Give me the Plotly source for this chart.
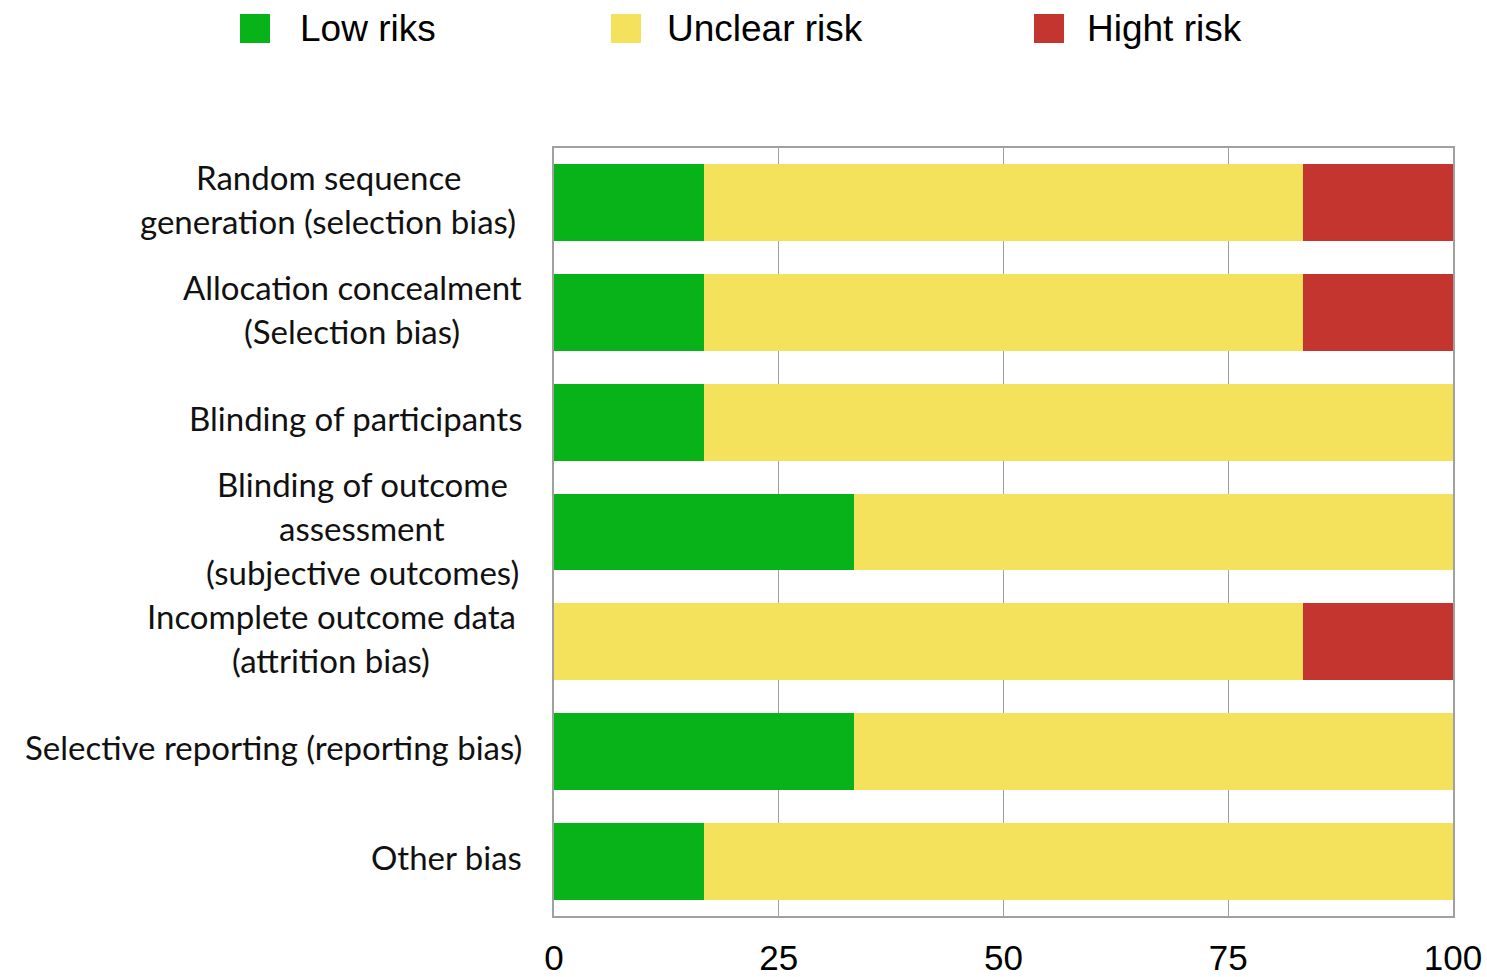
import plotly.graph_objects as go

categories = [
    "Random sequence generation (selection bias)",
    "Allocation concealment (Selection bias)",
    "Blinding of participants",
    "Blinding of outcome assessment (subjective outcomes)",
    "Incomplete outcome data (attrition bias)",
    "Selective reporting (reporting bias)",
    "Other bias",
]
label_lines = [
    ["Random sequence", "generation (selection bias)"],
    ["Allocation concealment", "(Selection bias)"],
    ["Blinding of participants"],
    ["Blinding of outcome", "assessment", "(subjective outcomes)"],
    ["Incomplete outcome data", "(attrition bias)"],
    ["Selective reporting (reporting bias)"],
    ["Other bias"],
]
low_risk = [16.67, 16.67, 16.67, 33.33, 0, 33.33, 16.67]
unclear_risk = [66.67, 66.67, 83.33, 66.67, 83.33, 66.67, 83.33]
high_risk = [16.67, 16.67, 0, 0, 16.67, 0, 0]
series_names = ["Low riks", "Unclear risk", "Hight risk"]
x_ticks = [0, 25, 50, 75, 100]

colors = ["#08B31A", "#F4E15C", "#C3352E"]
W, H = 1487, 977
L, R, T, B = 554, 34, 148, 61
plot_w = W - L - R
plot_h = H - T - B

fig = go.Figure()
for name, vals, col in zip(series_names, [low_risk, unclear_risk, high_risk], colors):
    fig.add_trace(go.Bar(
        y=categories, x=vals, name=name, orientation="h",
        marker=dict(color=col, line=dict(width=0)), width=0.7,
        showlegend=False,
    ))

# category labels with centred multi-line text
block_centers = [328, 352, None, 362, 331, None, None]
right_edge = 524
line_gap = 44
label_font = dict(family="Lato, Open Sans, sans-serif", size=33, color="#111111")
annotations = []
for i, (cat, lines) in enumerate(zip(categories, label_lines)):
    n = len(lines)
    for j, ln in enumerate(lines):
        if block_centers[i] is None:
            xs, xa = right_edge - L, "right"
        else:
            xs, xa = block_centers[i] - L, "center"
        annotations.append(dict(
            x=0, xref="paper", y=cat, yref="y",
            xshift=xs,
            yshift=-(j - (n - 1) / 2) * line_gap + 4,
            text=ln, showarrow=False, xanchor=xa, yanchor="middle",
            font=label_font,
        ))

# manual legend
legend_sq_x = [240, 611, 1034]
legend_txt_x = [298, 665, 1085]
shapes = []
for name, col, sx, tx in zip(series_names, colors, legend_sq_x, legend_txt_x):
    shapes.append(dict(
        type="rect", xref="paper", yref="paper",
        x0=(sx - L) / plot_w, x1=(sx + 30 - L) / plot_w,
        y0=(H - B - 43) / plot_h, y1=(H - B - 14) / plot_h,
        fillcolor=col, line=dict(width=0), layer="above",
    ))
    annotations.append(dict(
        x=(tx - L) / plot_w, xref="paper", y=(H - B - 29) / plot_h, yref="paper",
        text=name, showarrow=False, xanchor="left", yanchor="middle",
        font=dict(family="Liberation Sans, Arial, sans-serif", size=37, color="#000000"),
    ))

fig.update_layout(
    template="none",
    width=W, height=H,
    margin=dict(l=L, r=R, t=T, b=B, pad=0, autoexpand=False),
    barmode="stack", bargap=0.3,
    plot_bgcolor="white", paper_bgcolor="white",
    annotations=annotations, shapes=shapes,
    showlegend=False,
)
fig.update_xaxes(
    automargin=False,
    range=[0, 100], tickvals=x_ticks, ticktext=[str(t) for t in x_ticks],
    showgrid=True, gridcolor="#A0A0A0", gridwidth=1.2,
    showline=True, linecolor="#A0A0A0", linewidth=2, mirror=True,
    zeroline=False, ticks="", ticklabelstandoff=10,
    tickfont=dict(family="Liberation Sans, Arial, sans-serif", size=35, color="#000000"),
)
fig.update_yaxes(
    automargin=False,
    autorange="reversed", showticklabels=False, showgrid=False,
    showline=True, linecolor="#A0A0A0", linewidth=2, mirror=True,
    zeroline=False, ticks="",
)

fig.write_html(
    "out.html",
    config={"displayModeBar": False},
    post_script="document.body.style.margin='0px';document.body.style.overflow='hidden';",
)
